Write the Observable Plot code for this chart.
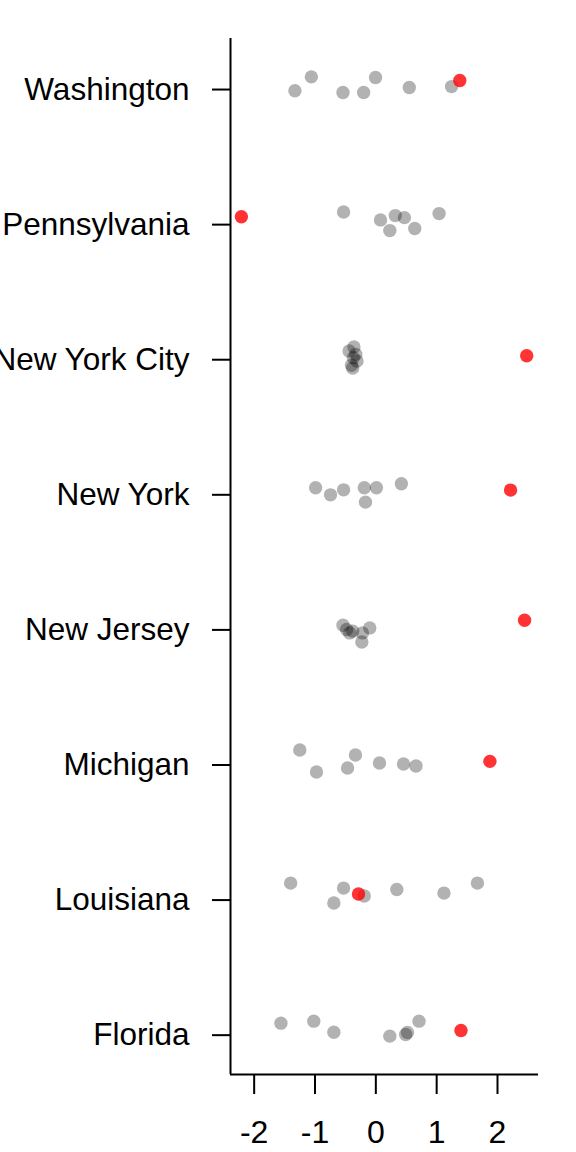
<!DOCTYPE html>
<html>
<head>
<meta charset="utf-8">
<script src="https://cdn.jsdelivr.net/npm/d3@7"></script>
<script src="https://cdn.jsdelivr.net/npm/@observablehq/plot@0.6"></script>
<style>
  html, body { margin: 0; padding: 0; background: #fff; }
  #chart { width: 576px; height: 1152px; }
</style>
</head>
<body>
<div id="chart"></div>
<script>
// States from bottom (index 0) to top
const states = ["Florida", "Louisiana", "Michigan", "New Jersey", "New York", "New York City", "Pennsylvania", "Washington"];

// Gray (other) values per state
const grayFlorida      = [-1.56, -1.02, -0.69, 0.23, 0.49, 0.52, 0.71];
const grayLouisiana    = [-1.40, -0.53, -0.69, -0.19, 0.345, 1.12, 1.67];
const grayMichigan     = [-1.25, -0.975, -0.465, -0.335, 0.06, 0.455, 0.66];
const grayNewJersey    = [-0.54, -0.48, -0.43, -0.23, -0.10, -0.22, -0.38];
const grayNewYork      = [-0.99, -0.745, -0.53, -0.19, 0.01, -0.17, 0.42];
const grayNewYorkCity  = [-0.36, -0.44, -0.33, -0.37, -0.31, -0.40, -0.38];
const grayPennsylvania = [-0.53, 0.077, 0.23, 0.32, 0.47, 0.64, 1.04];
const grayWashington   = [-1.33, -1.06, -0.54, -0.20, -0.005, 0.55, 1.245];

// Vertical jitter (category units) for the gray points
const jitFlorida      = [0.074, 0.089, 0.007, -0.022, -0.01, 0.005, 0.089];
const jitLouisiana    = [0.111, 0.074, -0.037, 0.015, 0.064, 0.037, 0.111];
const jitMichigan     = [0.096, -0.067, -0.037, 0.059, 0.0, -0.007, -0.022];
const jitNewJersey    = [0.02, -0.012, -0.037, -0.104, 0.0, -0.037, -0.024];
const jitNewYork      = [0.037, -0.015, 0.022, 0.037, 0.037, -0.069, 0.067];
const jitNewYorkCity  = [0.079, 0.05, 0.025, 0.0, -0.024, -0.056, -0.077];
const jitPennsylvania = [0.079, 0.02, -0.059, 0.052, 0.037, -0.044, 0.067];
const jitWashington   = [-0.024, 0.079, -0.037, -0.037, 0.074, 0.0, 0.007];

// Highlighted (red) value per state, and its jitter
const redValues = [1.40, -0.285, 1.875, 2.445, 2.215, 2.48, -2.21, 1.38];
const redJitter = [0.02, 0.03, 0.012, 0.057, 0.02, 0.015, 0.044, 0.052];

const xTicks = [-2, -1, 0, 1, 2];

const grayByState = [grayFlorida, grayLouisiana, grayMichigan, grayNewJersey, grayNewYork, grayNewYorkCity, grayPennsylvania, grayWashington];
const jitByState = [jitFlorida, jitLouisiana, jitMichigan, jitNewJersey, jitNewYork, jitNewYorkCity, jitPennsylvania, jitWashington];

const grayRows = [];
states.forEach((s, i) => {
  grayByState[i].forEach((v, k) => grayRows.push({state: s, value: v, pos: i + jitByState[i][k]}));
});
const redRows = states.map((s, i) => ({state: s, value: redValues[i], pos: i + redJitter[i]}));

const xDomain = [-2.389, 2.674];
const yDomain = [-0.306, 7.363];
const font = "'Liberation Sans', Arial, sans-serif";

const chart = Plot.plot({
  width: 576,
  height: 1152,
  marginLeft: 230,
  marginRight: 38,
  marginTop: 38,
  marginBottom: 78,
  style: {fontFamily: font, fontSize: "32px", background: "#fff", color: "#000"},
  x: {domain: xDomain, label: null},
  y: {domain: yDomain, label: null},
  marks: [
    Plot.axisX({ticks: xTicks, tickFormat: d => String(d), tickSize: 20, tickPadding: 26, fontSize: 32, strokeWidth: 2, label: null}),
    Plot.axisY({ticks: d3.range(states.length), tickFormat: i => states[i], tickSize: 18, tickPadding: 23, fontSize: 31.5, strokeWidth: 2, dy: 2, label: null}),
    Plot.ruleX([xDomain[0]], {stroke: "#000", strokeWidth: 2}),
    Plot.ruleY([yDomain[0]], {stroke: "#000", strokeWidth: 2}),
    Plot.dot(grayRows, {x: "value", y: "pos", r: 6.7, fill: "#000", fillOpacity: 0.3, stroke: "none"}),
    Plot.dot(redRows, {x: "value", y: "pos", r: 6.7, fill: "#ff0000", fillOpacity: 0.8, stroke: "none"})
  ]
});
document.getElementById("chart").appendChild(chart);
</script>
</body>
</html>
